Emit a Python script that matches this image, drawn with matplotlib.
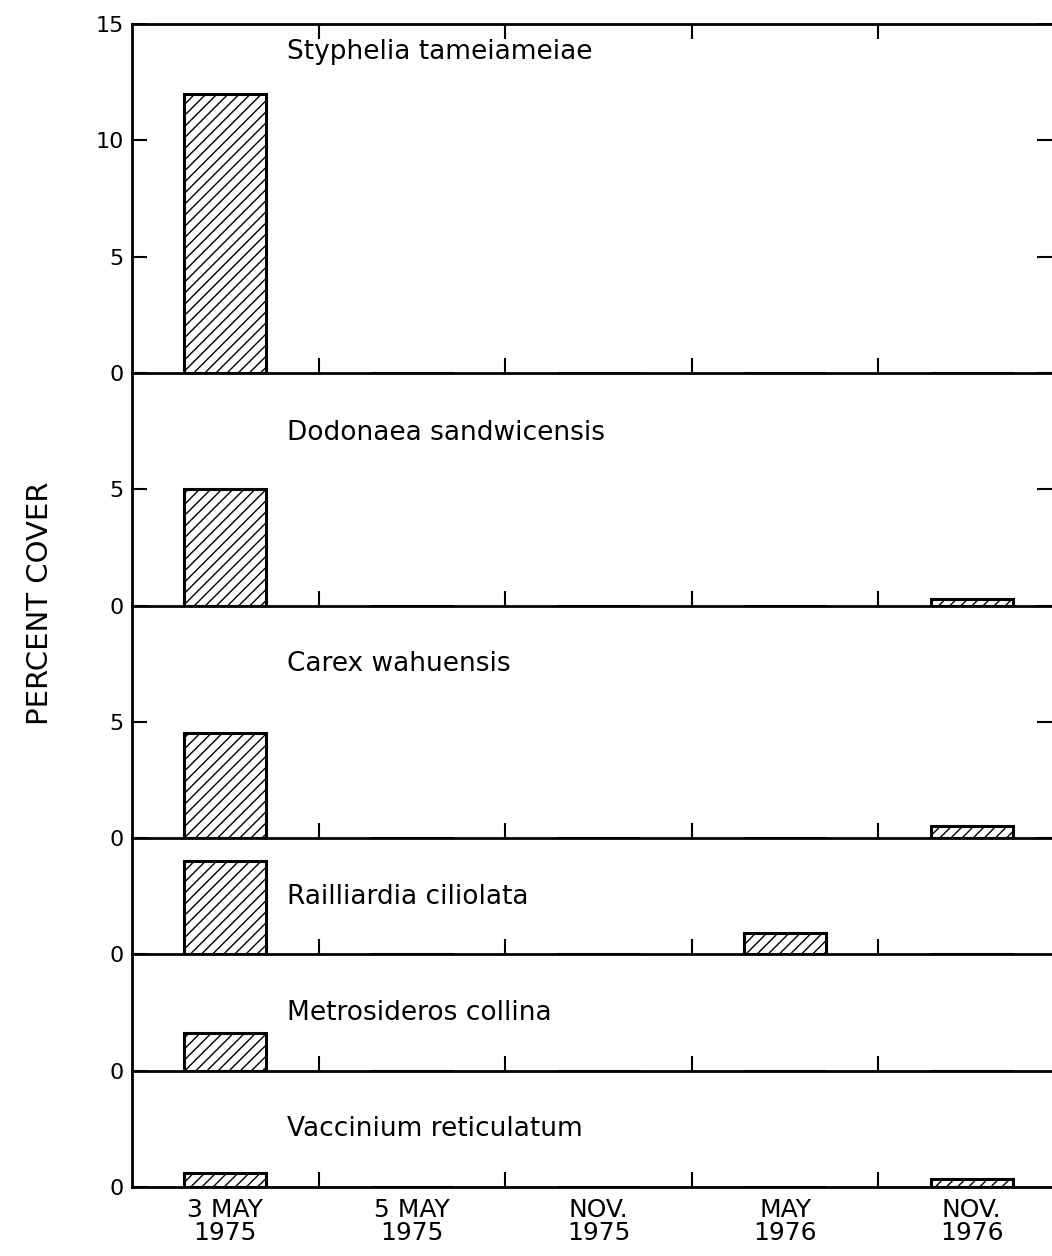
import numpy as np
import matplotlib
matplotlib.use("Agg")
import matplotlib.pyplot as plt

dates = ["3 MAY\n1975", "5 MAY\n1975", "NOV.\n1975", "MAY\n1976", "NOV.\n1976"]
species = ["Styphelia tameiameiae", "Dodonaea sandwicensis", "Carex wahuensis",
           "Railliardia ciliolata", "Metrosideros collina", "Vaccinium reticulatum"]
styphelia = [12.0, 0, 0, 0, 0]
dodonaea = [5.0, 0, 0, 0, 0.3]
carex = [4.5, 0, 0, 0, 0.5]
railliardia = [4.0, 0, 0, 0.9, 0]
metrosideros = [1.6, 0, 0, 0, 0]
vaccinium = [0.6, 0, 0, 0, 0.35]
values = [styphelia, dodonaea, carex, railliardia, metrosideros, vaccinium]
ymax = [15, 10, 10, 5, 5, 5]
yticks = [[0, 5, 10, 15], [0, 5], [0, 5], [0], [0], [0]]
label_y = [0.92, 0.74, 0.75, 0.49, 0.5, 0.5]

plt.rcParams['hatch.linewidth'] = 1.0
fig = plt.figure(figsize=(10.52, 12.56), dpi=100)
gs = fig.add_gridspec(6, 1, height_ratios=ymax, hspace=0,
                      left=132/1052, right=1.0, top=1-24/1256, bottom=1-1187/1256)

x = np.arange(len(dates))
for i in range(6):
    ax = fig.add_subplot(gs[i])
    ax.patch.set_visible(False)
    ax.bar(x, values[i], width=0.44, color='white', edgecolor='black',
           hatch='///', linewidth=2.2, zorder=3)
    ax.set_xlim(-0.5, 4.43)
    ax.set_ylim(0, ymax[i])
    ax.spines['right'].set_visible(False)
    ax.spines['top'].set_visible(i == 0)
    for s in ['left', 'bottom', 'top']:
        ax.spines[s].set_linewidth(2)
        ax.spines[s].set_zorder(4)
    ax.set_xticks([0.5, 1.5, 2.5, 3.5])
    ax.set_xticklabels([])
    ax.tick_params(axis='x', which='major', direction='in', length=11, width=1.5,
                   top=(i == 0))
    ax.set_yticks(yticks[i])
    ax.set_yticklabels([str(t) for t in yticks[i]], fontsize=16)
    ax.tick_params(axis='y', direction='in', length=11, width=1.5, pad=6,
                   right=(i < 3))
    ax.text(0.33, label_y[i], species[i], transform=ax.get_xaxis_transform(),
            fontsize=19, va='center', ha='left')
    if i == 5:
        ax.set_xticks(x, minor=True)
        ax.set_xticklabels(dates, minor=True, fontsize=18, linespacing=0.95)
        ax.tick_params(axis='x', which='minor', length=0, pad=8)

fig.text(40/1052, 1-603/1256, "PERCENT COVER", rotation=90, fontsize=21,
         ha='center', va='center')

fig.savefig("out.png", dpi=100)
